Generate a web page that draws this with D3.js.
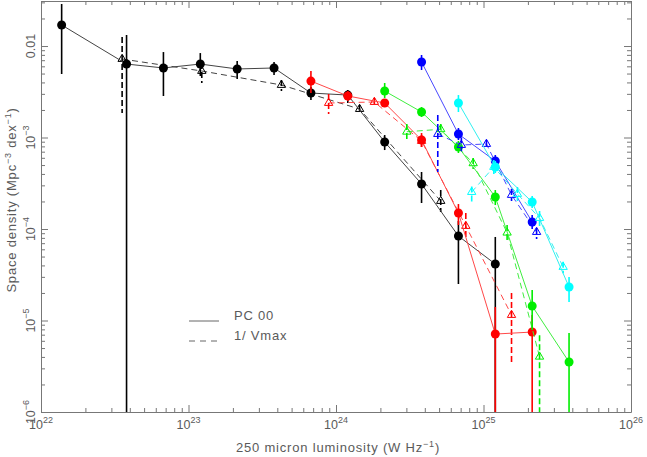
<!DOCTYPE html>
<html>
<head>
<meta charset="utf-8">
<script src="https://cdn.jsdelivr.net/npm/d3@7"></script>
<style>
  body { margin: 0; background: #fff; }
  svg text { font-family: "Liberation Sans", "DejaVu Sans", sans-serif; fill: #5a5a5a; }
</style>
</head>
<body>
<svg width="647" height="457"></svg>
<script>
// all values are log10: [log L250 (W/Hz), log phi, log phi upper, log phi lower (null = down to 0)]
const pcBlack = [
    [22.14, -1.770, -1.541, -2.306],
    [22.58, -2.197, -1.880, null],
    [22.83, -2.240, -2.066, -2.546],
    [23.08, -2.197, -2.077, -2.328],
    [23.33, -2.251, -2.164, -2.361],
    [23.58, -2.240, -2.175, -2.317],
    [23.83, -2.514, -2.448, -2.590],
    [24.08, -2.536, -2.481, -2.623],
    [24.33, -3.049, -2.973, -3.137],
    [24.58, -3.508, -3.377, -3.716],
    [24.83, -4.077, -3.913, -4.601],
    [25.08, -4.383, -4.087, null]
];
const vmaxBlack = [
    [22.55, -2.142, -1.902, -2.732],
    [23.09, -2.273, -2.186, -2.404],
    [23.63, -2.426, -2.372, -2.492],
    [24.16, -2.689, -2.645, -2.743],
    [24.71, -3.694, -3.574, -3.814]
];
const pcRed = [
    [23.83, -2.383, -2.273, -2.514],
    [24.08, -2.546, -2.492, -2.601],
    [24.33, -2.623, -2.579, -2.667],
    [24.58, -3.027, -2.951, -3.104],
    [24.83, -3.825, -3.727, -3.956],
    [25.08, -5.148, -4.852, null],
    [25.33, -5.126, -4.940, null]
];
const vmaxRed = [
    [23.95, -2.623, -2.525, -2.743],
    [24.26, -2.612, -2.568, -2.656],
    [24.58, -3.038, -2.973, -3.104],
    [24.88, -3.967, -3.825, -4.120],
    [25.19, -4.940, -4.699, -5.454]
];
const pcGreen = [
    [24.33, -2.492, -2.404, -2.568],
    [24.58, -2.721, -2.667, -2.776],
    [24.83, -3.104, -3.038, -3.169],
    [25.08, -3.650, -3.574, -3.738],
    [25.33, -4.842, -4.667, -5.104],
    [25.58, -5.454, -5.137, null]
];
const vmaxGreen = [
    [24.48, -2.937, -2.852, -3.016],
    [24.71, -2.910, -2.852, -2.973],
    [24.93, -3.282, -3.224, -3.344],
    [25.16, -4.040, -3.956, -4.142],
    [25.38, -5.396, -5.160, null]
];
const pcBlue = [
    [24.58, -2.175, -2.098, -2.262],
    [24.83, -2.962, -2.896, -3.027],
    [25.08, -3.257, -3.191, -3.322],
    [25.33, -3.923, -3.847, -4.000]
];
const vmaxBlue = [
    [24.69, -2.962, -2.754, -3.377],
    [24.85, -3.082, -3.000, -3.150],
    [25.02, -3.071, -3.027, -3.115],
    [25.19, -3.628, -3.563, -3.694],
    [25.36, -4.033, -3.989, -4.109]
];
const pcCyan = [
    [24.83, -2.623, -2.536, -2.721],
    [25.08, -3.322, -3.257, -3.388],
    [25.33, -3.705, -3.639, -3.770],
    [25.58, -4.634, -4.525, -4.798]
];
const vmaxCyan = [
    [24.92, -3.596, -3.536, -3.700],
    [25.07, -3.322, -3.246, -3.399],
    [25.23, -3.617, -3.541, -3.694],
    [25.38, -3.880, -3.803, -3.967],
    [25.54, -4.415, -4.357, -4.484]
];

const xDecades = [22, 23, 24, 25, 26];
const yDecades = [-6, -5, -4, -3, -2];
const yTickText = ["10", "10", "10", "10", "0.01"];
const yTickSup = ["\u22126", "\u22125", "\u22124", "\u22123", ""];

const groups = [
    { pc: pcBlack, vmax: vmaxBlack, color: "#000", line: "#444" },
    { pc: pcRed, vmax: vmaxRed, color: "#ff0000", line: "#ff4848" },
    { pc: pcGreen, vmax: vmaxGreen, color: "#00ee00", line: "#40ee40" },
    { pc: pcBlue, vmax: vmaxBlue, color: "#0000ff", line: "#4848ff" },
    { pc: pcCyan, vmax: vmaxCyan, color: "#00ffff", line: "#30f0f0" }
];

const mLeft = 41, mRight = 631, mTop = 1, mBottom = 412;

const x = d3.scaleLog().domain([1e22, 1e26]).range([mLeft, mRight]);
const y = d3.scaleLog().domain([1e-6, Math.pow(10, -1.508)]).range([mBottom, mTop]);

const svg = d3.select("svg");

// minor tick values
let xMinor = [], yMinor = [];
for (let e = 22; e < 26; e++) for (let k = 2; k <= 9; k++) xMinor.push(k * Math.pow(10, e));
for (let e = -6; e < -1; e++) for (let k = 2; k <= 9; k++) {
    const v = k * Math.pow(10, e);
    if (v <= y.domain()[1]) yMinor.push(v);
}
const xMajor = xDecades.map(e => Math.pow(10, e));
const yMajor = yDecades.map(e => Math.pow(10, e));

function axisStyle(g) {
    g.selectAll("path, line").attr("stroke", "#777").attr("stroke-width", 1);
    g.selectAll("text").remove();
}

// axes, ticks pointing inward on all four sides
[[d3.axisBottom(x), "translate(0," + mBottom + ")", xMajor, xMinor],
 [d3.axisTop(x), "translate(0," + mTop + ")", xMajor, xMinor],
 [d3.axisLeft(y), "translate(" + mLeft + ",0)", yMajor, yMinor],
 [d3.axisRight(y), "translate(" + mRight + ",0)", yMajor, yMinor]].forEach(a => {
    svg.append("g").attr("transform", a[1])
        .call(a[0].tickValues(a[2]).tickSizeInner(-7).tickSizeOuter(0).tickFormat(""))
        .call(axisStyle);
    svg.append("g").attr("transform", a[1])
        .call(a[0].tickValues(a[3]).tickSizeInner(-4).tickSizeOuter(0).tickFormat(""))
        .call(axisStyle)
        .select(".domain").remove();
});

// x tick labels
xDecades.forEach(e => {
    const t = svg.append("text")
        .attr("x", x(Math.pow(10, e)))
        .attr("y", 429)
        .attr("text-anchor", "middle")
        .style("font-size", "12.5px");
    t.append("tspan").text("10");
    t.append("tspan").attr("dy", -6).style("font-size", "9px").text(e);
});

// y tick labels (rotated)
yDecades.forEach((e, i) => {
    const t = svg.append("text")
        .attr("transform", "translate(35," + y(Math.pow(10, e)) + ") rotate(-90)")
        .attr("text-anchor", "middle")
        .style("font-size", "12.5px");
    t.append("tspan").text(yTickText[i]);
    if (yTickSup[i]) t.append("tspan").attr("dy", -6).style("font-size", "9px").text(yTickSup[i]);
});

// axis titles
const xt = svg.append("text").attr("x", 338).attr("y", 452)
    .attr("text-anchor", "middle").style("font-size", "13px").style("letter-spacing", "0.8px");
xt.append("tspan").text("250 micron luminosity (W Hz");
xt.append("tspan").attr("dy", -5).style("font-size", "9px").text("\u22121");
xt.append("tspan").attr("dy", 5).text(")");

const yt = svg.append("text").attr("transform", "translate(16,200) rotate(-90)")
    .attr("text-anchor", "middle").style("font-size", "13px").style("letter-spacing", "0.8px");
yt.append("tspan").text("Space density (Mpc");
yt.append("tspan").attr("dy", -5).style("font-size", "9px").text("\u22123");
yt.append("tspan").attr("dy", 5).text(" dex");
yt.append("tspan").attr("dy", -5).style("font-size", "9px").text("\u22121");
yt.append("tspan").attr("dy", 5).text(")");

// legend
svg.append("line").attr("x1", 189).attr("x2", 219).attr("y1", 321).attr("y2", 321)
    .attr("stroke", "#666");
svg.append("line").attr("x1", 189).attr("x2", 219).attr("y1", 341).attr("y2", 341)
    .attr("stroke", "#666").attr("stroke-dasharray", "6,5");
svg.append("text").attr("x", 234).attr("y", 320).style("font-size", "13px")
    .style("letter-spacing", "0.8px").text("PC 00");
svg.append("text").attr("x", 234).attr("y", 340).style("font-size", "13px")
    .style("letter-spacing", "0.8px").text("1/ Vmax");

const px = d => x(Math.pow(10, d[0]));
const py = v => v === null ? mBottom : y(Math.pow(10, v));

const plot = svg.append("g");
const line = d3.line().x(px).y(d => py(d[1]));

groups.forEach(grp => {
    const g = plot.append("g");
    // 1/Vmax: dashed line, dashed error bars, open triangles
    g.append("path").datum(grp.vmax).attr("d", line)
        .attr("fill", "none").attr("stroke", grp.line).attr("stroke-width", 1)
        .attr("stroke-dasharray", "6,4");
    g.selectAll(".verr").data(grp.vmax).enter().append("line")
        .attr("x1", px).attr("x2", px)
        .attr("y1", d => py(d[2])).attr("y2", d => py(d[3]))
        .attr("stroke", grp.color).attr("stroke-width", 1.6)
        .attr("stroke-dasharray", "6,3");
    g.selectAll(".tri").data(grp.vmax).enter().append("path")
        .attr("transform", d => "translate(" + px(d) + "," + py(d[1]) + ")")
        .attr("d", d3.symbol(d3.symbolTriangle, 30))
        .attr("fill", "none").attr("stroke", grp.color).attr("stroke-width", 1);

    // PC 00: solid line, error bars, filled circles
    g.append("path").datum(grp.pc).attr("d", line)
        .attr("fill", "none").attr("stroke", grp.line).attr("stroke-width", 1);
    g.selectAll(".perr").data(grp.pc).enter().append("line")
        .attr("x1", px).attr("x2", px)
        .attr("y1", d => py(d[2])).attr("y2", d => py(d[3]))
        .attr("stroke", grp.color).attr("stroke-width", 1.6);
    g.selectAll(".dot").data(grp.pc).enter().append("circle")
        .attr("cx", px).attr("cy", d => py(d[1]))
        .attr("r", 4.5).attr("fill", grp.color);
});
</script>
</body>
</html>
